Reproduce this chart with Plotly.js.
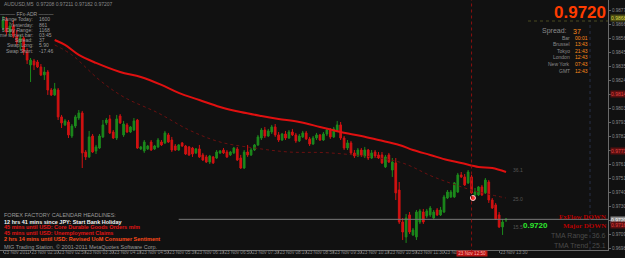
<!DOCTYPE html>
<html><head><meta charset="utf-8">
<script src="https://cdn.plot.ly/plotly-3.0.1.min.js"></script>
<style>html,body{margin:0;padding:0;background:#111111;}#chart{width:625px;height:258px;}</style>
</head><body><div id="chart"></div>
<script>
// ---- data (AUDUSD M5) ----
const openP = [0.98635,0.98695,0.98605,0.98650,0.98575,0.98530,0.98560,0.98455,0.98358,0.98388,
0.98380,0.98343,0.98283,0.98305,0.98170,0.98133,0.98170,0.97968,0.97908,0.97930,
0.97825,0.97900,0.97960,0.97998,0.97705,0.97668,0.97825,0.97713,0.97735,0.97818,
0.97923,0.97953,0.97855,0.97810,0.97975,0.97833,0.97908,0.97855,0.97870,0.97945,
0.97728,0.97713,0.97728,0.97780,0.97728,0.97743,0.97780,0.97773,0.97833,0.97795,
0.97750,0.97720,0.97773,0.97750,0.97743,0.97735,0.97698,0.97728,0.97683,0.97668,
0.97630,0.97668,0.97660,0.97698,0.97720,0.97705,0.97683,0.97698,0.97728,0.97660,
0.97585,0.97705,0.97683,0.97720,0.97758,0.97810,0.97870,0.97825,0.97855,0.97893,
0.97833,0.97795,0.97840,0.97810,0.97855,0.97833,0.97788,0.97818,0.97848,0.97803,
0.97765,0.97810,0.97833,0.97795,0.97840,0.97870,0.97818,0.97870,0.97908,0.97810,
0.97735,0.97773,0.97698,0.97675,0.97720,0.97675,0.97720,0.97660,0.97705,0.97683,
0.97683,0.97593,0.97683,0.97570,0.97623,0.97420,0.97180,0.97068,0.97233,0.97083,
0.97068,0.97180,0.97255,0.97225,0.97233,0.97210,0.97270,0.97233,0.97255,0.97360,
0.97368,0.97368,0.97405,0.97533,0.97518,0.97473,0.97518,0.97383,0.97383,0.97443,
0.97398,0.97480,0.97345,0.97308,0.97233,0.97143,0.97195];
const highP = [0.98725,0.98718,0.98680,0.98695,0.98620,0.98583,0.98575,0.98485,0.98410,0.98403,
0.98395,0.98365,0.98343,0.98320,0.98185,0.98223,0.98185,0.97983,0.97953,0.97945,
0.97915,0.97983,0.98020,0.98013,0.97720,0.97863,0.97840,0.97758,0.97840,0.97945,
0.97960,0.97983,0.97870,0.97983,0.97990,0.97938,0.97923,0.97900,0.97960,0.97953,
0.97750,0.97795,0.97758,0.97795,0.97758,0.97810,0.97795,0.97863,0.97848,0.97818,
0.97765,0.97765,0.97780,0.97758,0.97750,0.97743,0.97735,0.97758,0.97698,0.97683,
0.97683,0.97675,0.97720,0.97720,0.97735,0.97720,0.97713,0.97743,0.97743,0.97683,
0.97720,0.97758,0.97735,0.97765,0.97833,0.97885,0.97893,0.97878,0.97908,0.97915,
0.97855,0.97848,0.97863,0.97870,0.97878,0.97848,0.97840,0.97863,0.97863,0.97818,
0.97825,0.97848,0.97840,0.97855,0.97885,0.97885,0.97893,0.97938,0.97930,0.97825,
0.97795,0.97788,0.97720,0.97735,0.97735,0.97743,0.97728,0.97720,0.97720,0.97705,
0.97705,0.97683,0.97698,0.97660,0.97660,0.97480,0.97210,0.97240,0.97255,0.97135,
0.97270,0.97278,0.97278,0.97278,0.97300,0.97270,0.97285,0.97293,0.97383,0.97420,
0.97420,0.97480,0.97548,0.97555,0.97540,0.97570,0.97533,0.97435,0.97450,0.97458,
0.97510,0.97495,0.97360,0.97323,0.97255,0.97203,0.97203];
const lowP = [0.98613,0.98583,0.98575,0.98560,0.98508,0.98470,0.98433,0.98365,0.98230,0.98320,
0.98335,0.98275,0.98245,0.98133,0.98125,0.98125,0.97945,0.97885,0.97900,0.97810,
0.97810,0.97885,0.97945,0.97585,0.97645,0.97660,0.97698,0.97690,0.97728,0.97810,
0.97908,0.97840,0.97803,0.97795,0.97915,0.97818,0.97848,0.97848,0.97863,0.97728,
0.97720,0.97698,0.97720,0.97713,0.97720,0.97735,0.97750,0.97765,0.97773,0.97705,
0.97713,0.97713,0.97743,0.97683,0.97675,0.97668,0.97690,0.97660,0.97638,0.97623,
0.97615,0.97615,0.97653,0.97690,0.97690,0.97660,0.97675,0.97690,0.97638,0.97578,
0.97578,0.97668,0.97675,0.97713,0.97750,0.97795,0.97810,0.97818,0.97840,0.97818,
0.97780,0.97788,0.97795,0.97803,0.97825,0.97773,0.97780,0.97810,0.97795,0.97750,
0.97758,0.97795,0.97788,0.97788,0.97825,0.97803,0.97810,0.97863,0.97795,0.97720,
0.97720,0.97683,0.97660,0.97668,0.97668,0.97660,0.97645,0.97653,0.97660,0.97653,
0.97615,0.97585,0.97623,0.97518,0.97345,0.97165,0.97045,0.97023,0.97090,0.97075,
0.97045,0.97165,0.97165,0.97210,0.97218,0.97203,0.97225,0.97225,0.97248,0.97353,
0.97360,0.97360,0.97398,0.97510,0.97450,0.97465,0.97390,0.97375,0.97375,0.97375,
0.97390,0.97323,0.97278,0.97195,0.97135,0.97083,0.97180];
const closeP = [0.98695,0.98605,0.98650,0.98575,0.98530,0.98560,0.98455,0.98395,0.98395,0.98358,
0.98343,0.98283,0.98305,0.98170,0.98133,0.98178,0.97968,0.97923,0.97938,0.97833,
0.97900,0.97968,0.97998,0.97698,0.97668,0.97818,0.97705,0.97743,0.97825,0.97908,
0.97945,0.97848,0.97810,0.97953,0.97923,0.97915,0.97855,0.97893,0.97938,0.97735,
0.97743,0.97780,0.97750,0.97720,0.97750,0.97795,0.97758,0.97848,0.97780,0.97720,
0.97720,0.97758,0.97750,0.97690,0.97683,0.97690,0.97728,0.97668,0.97645,0.97630,
0.97675,0.97623,0.97705,0.97713,0.97698,0.97668,0.97705,0.97735,0.97645,0.97585,
0.97705,0.97683,0.97720,0.97758,0.97818,0.97870,0.97825,0.97863,0.97893,0.97833,
0.97795,0.97840,0.97810,0.97855,0.97833,0.97788,0.97825,0.97848,0.97803,0.97765,
0.97810,0.97833,0.97795,0.97840,0.97870,0.97818,0.97878,0.97908,0.97810,0.97735,
0.97773,0.97698,0.97675,0.97720,0.97683,0.97720,0.97660,0.97698,0.97675,0.97660,
0.97623,0.97668,0.97630,0.97630,0.97398,0.97180,0.97105,0.97210,0.97105,0.97120,
0.97255,0.97263,0.97180,0.97263,0.97285,0.97255,0.97233,0.97270,0.97368,0.97405,
0.97405,0.97473,0.97533,0.97518,0.97458,0.97555,0.97398,0.97405,0.97443,0.97383,
0.97495,0.97345,0.97285,0.97203,0.97143,0.97180,0.97203];

// moving averages
const maIdx = [15,18,22,27,34,40,46,51,57,63,69,75,80,86,92,98,104,109,115,119,124,129,133,138,142,146];
const maVal = [0.98545,0.98508,0.98433,0.98373,0.98305,0.98268,0.98208,0.98148,0.98095,0.98043,0.98005,0.97975,0.97953,0.97930,0.97893,0.97855,0.97825,0.97795,0.97758,0.97720,0.97683,0.97645,0.97623,0.97593,0.97585,0.97555];
const tmaIdx = [15,20,28,35,45,54,63,73,83,95,115,125,136,146];
const tmaVal = [0.98508,0.98433,0.98245,0.98118,0.97998,0.97870,0.97780,0.97735,0.97705,0.97698,0.97630,0.97518,0.97420,0.97360];
const signalIdx = [136.4];
const signalVal = [0.97360];

const bidPrice = 0.97200;
const bidStartIdx = 51;
const markerIdx = 136;

const yTickVals = [0.98770,0.98665,0.98560,0.98455,0.98350,0.98245,0.98140,0.98035,0.97930,0.97825,0.97720,0.97615,0.97510,0.97405,0.97300,0.97195,0.97090,0.96985];
const yTickText = yTickVals.map(v => v.toFixed(5));
const xTickVals = [0,8,16,24,32,40,48,56,64,72,80,88,96,104,112,120,128,144];
const xTickText = ["23 Nov 2011","23 Nov 02:10","23 Nov 02:50","23 Nov 03:30","23 Nov 04:10","23 Nov 04:50","23 Nov 05:30","23 Nov 06:10","23 Nov 06:50","23 Nov 07:30","23 Nov 08:10","23 Nov 08:50","23 Nov 09:30","23 Nov 10:10","23 Nov 10:50","23 Nov 11:30","23 Nov 12:10","23 Nov 13:30"];
const cursorTime = "23 Nov 12:50";

const adrLabels = ["Range Today:","Yesterday:","5 Day Range:","Time to next bar:","Spread:","Swap Long:","Swap Short:"];
const adrValues = ["1600","861","1168","03:45","37","5.90","-17.46"];
const clockLabels = ["Bar","Brussel","Tokyo","London","New York","GMT"];
const clockValues = ["00:01","13:43","21:43","12:43","07:43","12:43"];
const headlines = ["12 hrs 41 mins since JPY: Start Bank Holiday","45 mins until USD: Core Durable Goods Orders m/m","45 mins until USD: Unemployment Claims","2 hrs 14 mins until USD: Revised UoM Consumer Sentiment"];
const headlineColors = ["#f2f2f2","#e01414","#e01414","#ff4a1a"];

// ---- layout helpers (pixel -> paper) ----
const PW = 608, PH = 250;
const px = x => x / PW, py = y => 1 - y / PH;
const FS = "Liberation Sans, Arial, sans-serif";
function ann(text, x, y, o) {
  o = o || {};
  return Object.assign({text: text, x: px(x), y: py(y), xref: "paper", yref: "paper",
    showarrow: false, xanchor: o.xa || "left", yanchor: "middle",
    font: {family: o.family || FS, size: o.size || 5.5, color: o.color || "#a0a0a0", weight: o.weight || "normal"},
    borderpad: 0}, o.extra || {});
}

const xs = openP.map((_, i) => i);
const traces = [
  {type: "candlestick", x: xs, open: openP, high: highP, low: lowP, close: closeP,
   increasing: {line: {color: "#1c8a1c", width: 1}, fillcolor: "#1c8a1c"},
   decreasing: {line: {color: "#d01212", width: 1}, fillcolor: "#d01212"},
   hoverinfo: "skip", showlegend: false},
  {type: "scatter", mode: "lines", x: tmaIdx, y: tmaVal, line: {color: "#6a1010", width: 1, dash: "dot", shape: "spline"}, hoverinfo: "skip", showlegend: false},
  {type: "scatter", mode: "lines", x: maIdx, y: maVal, line: {color: "#e01010", width: 2, shape: "spline"}, hoverinfo: "skip", showlegend: false},
  {type: "scatter", mode: "markers", x: signalIdx, y: signalVal, marker: {color: "#ff3030", size: 5, line: {color: "#ffd0d0", width: 1}}, hoverinfo: "skip", showlegend: false}
];

const annotations = [];
annotations.push(ann("AUDUSD,M5  0.97208 0.97211 0.97182 0.97207", 3, 4, {size: 5, color: "#8a8a8a"}));
annotations.push(ann("——— FFx-ADR ———", 27, 14, {xa: "center", size: 5, color: "#9a9a9a"}));
adrLabels.forEach((t, i) => {
  const y = 19.5 + i * 5.2;
  annotations.push(ann(t, 34, y, {xa: "right", size: 5, color: "#9a9a9a"}));
  annotations.push(ann(adrValues[i], 38, y, {size: 5, color: "#9a9a9a"}));
});
annotations.push(ann("0.9720", 607, 12, {xa: "right", size: 17, color: "#ff3c00", weight: "bold"}));
annotations.push(ann("Spread:", 568, 31, {xa: "right", size: 7, color: "#8a8a8a"}));
annotations.push(ann("37", 572, 31, {size: 7, color: "#ff8c1a"}));
clockLabels.forEach((t, i) => {
  const y = 37.5 + i * 6.6;
  annotations.push(ann(t, 571, y, {xa: "right", size: 5, color: "#8a8a8a"}));
  annotations.push(ann(clockValues[i], 574, y, {size: 5, color: "#ff8c1a"}));
});
annotations.push(ann("FOREX FACTORY CALENDAR HEADLINES:", 3, 214.5, {size: 5.5, color: "#9a9a9a"}));
headlines.forEach((t, i) => annotations.push(ann(t, 3, 221.5 + i * 5.7, {size: 5.5, color: headlineColors[i], weight: "bold"})));
annotations.push(ann("MIG Trading Station, © 2001-2011 MetaQuotes Software Corp.", 3, 246.5, {size: 5.5, color: "#9a9a9a"}));
annotations.push(ann("FxFlow DOWN", 607, 216.5, {xa: "right", size: 7, color: "#b80000", weight: "bold", family: "Liberation Serif, Times New Roman, serif"}));
annotations.push(ann("Major DOWN", 607, 226, {xa: "right", size: 7, color: "#b80000", weight: "bold", family: "Liberation Serif, Times New Roman, serif"}));
annotations.push(ann("TMA Range  36.6", 607, 236, {xa: "right", size: 7, color: "#4a4a4a"}));
annotations.push(ann("TMA Trend  25.1", 607, 245, {xa: "right", size: 7, color: "#4a4a4a"}));
annotations.push(ann("0.9720", 522, 225, {size: 8, color: "#2ee82e", weight: "bold"}));
annotations.push(ann("36.1", 512, 170, {size: 5, color: "#555555"}));
annotations.push(ann("25.0", 512, 199, {size: 5, color: "#555555"}));
annotations.push(ann("15.5", 512, 227, {size: 5, color: "#555555"}));
// price tags on the axis
const tag = (t, y, bg, c) => ann(t, 610, y, {size: 5, color: c, extra: {bgcolor: bg}});
annotations.push(tag("0.98687", 18, "#4a4a12", "#d8d84a"));
annotations.push(tag("0.98140", 94, "#5a1010", "#e04040"));
annotations.push(tag("0.97713", 151, "#5a1010", "#e04040"));
annotations.push(tag("0.97200", 219.5, "#8a8a8a", "#ffffff"));
annotations.push(tag("0.97165", 225, "#5a1010", "#e04040"));
// time tag at the vertical marker
annotations.push(ann(" " + cursorTime + " ", 472, 253.5, {xa: "center", size: 4.6, color: "#ffb0b0", extra: {bgcolor: "#b81515"}}));

const shapes = [
  {type: "line", xref: "x", yref: "y", x0: bidStartIdx, x1: 176, y0: bidPrice, y1: bidPrice, line: {color: "#7a7a7a", width: 1}},
  {type: "line", xref: "x", yref: "paper", x0: markerIdx, x1: markerIdx, y0: -0.01, y1: 1, line: {color: "#8a1010", width: 1, dash: "dot"}},
  {type: "line", xref: "paper", yref: "paper", x0: px(590), x1: px(590), y0: py(250), y1: py(20), line: {color: "#283048", width: 1, dash: "dot"}},
  {type: "line", xref: "paper", yref: "paper", x0: px(528), x1: 1, y0: py(21), y1: py(21), line: {color: "#4a4a20", width: 1, dash: "dot"}}
];

const layout = {
  width: 625, height: 258,
  margin: {l: 0, r: 17, t: 0, b: 8, pad: 0},
  paper_bgcolor: "#111111", plot_bgcolor: "#111111",
  showlegend: false,
  xaxis: {range: [-0.87, 175.6], rangeslider: {visible: false}, showgrid: false, zeroline: false,
    tickmode: "array", tickvals: xTickVals, ticktext: xTickText, ticklabelposition: "outside right",
    tickangle: 0, ticks: "outside", ticklen: 2, tickcolor: "#666", ticklabelstandoff: -3,
    tickfont: {family: FS, size: 4.6, color: "#8a8a8a"},
    showline: true, linecolor: "#6a6a6a", linewidth: 1, fixedrange: true},
  yaxis: {range: [0.96970, 0.98845], side: "right", showgrid: false, zeroline: false,
    tickmode: "array", tickvals: yTickVals, ticktext: yTickText,
    ticks: "outside", ticklen: 2, tickcolor: "#666", tickfont: {family: FS, size: 4.6, color: "#8a8a8a"},
    showline: true, linecolor: "#6a6a6a", linewidth: 1, fixedrange: true},
  annotations: annotations,
  shapes: shapes
};

Plotly.newPlot("chart", traces, layout, {staticPlot: true, displayModeBar: false});
</script></body></html>
